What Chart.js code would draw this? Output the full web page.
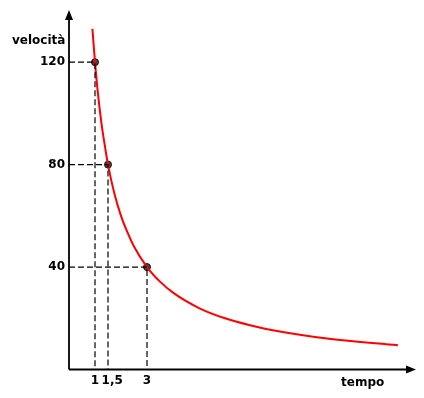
<!DOCTYPE html>
<html>
<head>
<meta charset="utf-8">
<script src="https://cdn.jsdelivr.net/npm/chart.js@4"></script>
<style>
  html, body { margin: 0; padding: 0; background: #fff; }
  #wrap { width: 424px; height: 398px; }
</style>
</head>
<body>
<div id="wrap"><canvas id="chart"></canvas></div>
<script>
// curve (tempo, velocità)
const curveT = [0.9, 1, 1.1, 1.25, 1.4, 1.5, 1.75, 2, 2.25, 2.5, 3, 3.5, 4, 5, 6, 7, 8, 10, 12.65];
const curveV = [133, 120, 109, 96, 86, 80, 68.5, 60, 53.5, 48, 40, 34.3, 30, 24, 20, 17.2, 15, 12, 9.5];

// marked points
const pointT = [1, 1.5, 3];
const pointV = [120, 80, 40];

// tick values and labels
const xTicks = [1, 1.5, 3];
const xTickLabels = ['1', '  1,5', '3'];
const yTicks = [40, 80, 120];
const yTickLabels = ['40', '80', '120'];

const FONT = 'DejaVu Sans';

// dashed guides from each point to both axes
const guides = pointT.map((t, i) => ({
    data: [{x: 0, y: pointV[i]}, {x: t, y: pointV[i]}, {x: t, y: 0}],
    borderColor: '#000',
    borderWidth: 1.2,
    borderDash: [6, 3],
    pointRadius: 0,
    showLine: true,
    fill: false
}));

// axes with arrow heads and axis titles
const axesPlugin = {
    id: 'axesPlugin',
    afterDatasetsDraw(chart) {
        const ctx = chart.ctx;
        const x0 = chart.scales.x.getPixelForValue(0);
        const y0 = chart.scales.y.getPixelForValue(0);
        ctx.save();
        ctx.strokeStyle = '#000';
        ctx.fillStyle = '#000';
        ctx.lineWidth = 1.8;
        ctx.beginPath();
        ctx.moveTo(x0, y0);
        ctx.lineTo(x0, 14);
        ctx.moveTo(x0, y0);
        ctx.lineTo(410, y0);
        ctx.stroke();
        // arrow heads
        ctx.beginPath();
        ctx.moveTo(x0, 10);
        ctx.lineTo(x0 - 4, 20);
        ctx.lineTo(x0 + 4, 20);
        ctx.closePath();
        ctx.fill();
        ctx.beginPath();
        ctx.moveTo(416, y0);
        ctx.lineTo(406, y0 - 4);
        ctx.lineTo(406, y0 + 4);
        ctx.closePath();
        ctx.fill();
        // titles
        ctx.font = 'bold 12px ' + FONT;
        ctx.textBaseline = 'alphabetic';
        ctx.textAlign = 'left';
        ctx.fillText('velocità', 12, 44);
        ctx.fillText('tempo', 341, 386);
        ctx.restore();
    }
};

new Chart(document.getElementById('chart'), {
    type: 'scatter',
    data: {
        datasets: [
            ...guides,
            {
                data: curveT.map((t, i) => ({x: t, y: curveV[i]})),
                borderColor: '#ff0000',
                borderWidth: 2,
                pointRadius: 0,
                showLine: true,
                cubicInterpolationMode: 'monotone',
                fill: false
            },
            {
                data: pointT.map((t, i) => ({x: t, y: pointV[i]})),
                backgroundColor: '#444',
                borderColor: '#111',
                borderWidth: 1,
                pointRadius: 3.5,
                showLine: false
            }
        ]
    },
    options: {
        responsive: true,
        maintainAspectRatio: false,
        animation: false,
        layout: { padding: { top: 11, right: 11, left: 0, bottom: 0 } },
        plugins: {
            legend: { display: false },
            tooltip: { enabled: false }
        },
        scales: {
            x: {
                type: 'linear',
                min: 0,
                max: 13.23,
                grid: { display: false, drawTicks: false },
                border: { display: false },
                afterBuildTicks(scale) {
                    scale.ticks = xTicks.map(v => ({value: v}));
                },
                afterFit(scale) { scale.height = 28.5; },
                ticks: {
                    autoSkip: false,
                    maxRotation: 0,
                    padding: 4,
                    color: '#000',
                    font: { family: FONT, size: 12, weight: 'bold' },
                    callback: (v) => xTickLabels[xTicks.indexOf(v)]
                }
            },
            y: {
                type: 'linear',
                min: 0,
                max: 139.9,
                grid: { display: false, drawTicks: false },
                border: { display: false },
                afterBuildTicks(scale) {
                    scale.ticks = yTicks.map(v => ({value: v}));
                },
                afterFit(scale) { scale.width = 69; },
                ticks: {
                    autoSkip: false,
                    padding: 4,
                    color: '#000',
                    font: { family: FONT, size: 12, weight: 'bold' },
                    callback: (v) => yTickLabels[yTicks.indexOf(v)]
                }
            }
        }
    },
    plugins: [axesPlugin]
});
</script>
</body>
</html>
